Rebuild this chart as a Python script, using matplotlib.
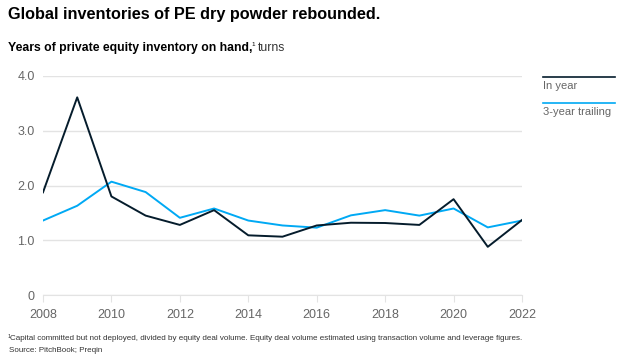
import matplotlib
matplotlib.use("Agg")
import matplotlib.pyplot as plt
from matplotlib.lines import Line2D

plt.rcParams['font.family'] = ['Liberation Sans', 'DejaVu Sans']

years = list(range(2008, 2023))
in_year = [1.875, 3.61, 1.80, 1.45, 1.28, 1.55, 1.09, 1.065, 1.27, 1.32, 1.315, 1.28, 1.75, 0.88, 1.37]
trailing = [1.36, 1.63, 2.07, 1.88, 1.41, 1.58, 1.36, 1.27, 1.23, 1.455, 1.55, 1.45, 1.58, 1.235, 1.36]
yticks = [0, 1.0, 2.0, 3.0, 4.0]
ylabels = ["0", "1.0", "2.0", "3.0", "4.0"]
xticks = list(range(2008, 2023, 2))

dark = "#051C2C"
blue = "#00A9F4"
grey = "#666666"

W, H = 631, 360
fig = plt.figure(figsize=(W / 100, H / 100), dpi=100)
ax = fig.add_axes([43 / W, 1 - 295 / H, (522 - 43) / W, (295 - 76) / H])

ax.plot(years, trailing, color=blue, lw=1.4, zorder=3)
ax.plot(years, in_year, color=dark, lw=1.4, zorder=4)

ax.set_xlim(2008, 2022)
ax.set_ylim(0, 4.0)
ax.set_yticks(yticks)
ax.set_yticklabels(ylabels)
ax.set_xticks(xticks)
ax.grid(axis="y", color="#e3e3e3", lw=1)
ax.set_axisbelow(True)
for s in ["top", "right", "left"]:
    ax.spines[s].set_visible(False)
ax.spines["bottom"].set_color("#e3e3e3")
ax.tick_params(axis="y", length=0, pad=6, labelsize=9, labelcolor=grey)
ax.tick_params(axis="x", length=5, color="#e3e3e3", pad=5, labelsize=9, labelcolor=grey)

# legend on the right
fig.add_artist(Line2D([543 / W, 615 / W], [1 - 77 / H, 1 - 77 / H], color=dark, lw=1.2))
fig.text(543 / W, 1 - 86 / H, "In year", fontsize=8, color=grey, va="center")
fig.add_artist(Line2D([543 / W, 615 / W], [1 - 103 / H, 1 - 103 / H], color=blue, lw=1.2))
fig.text(543 / W, 1 - 112 / H, "3-year trailing", fontsize=8, color=grey, va="center")

# titles
fig.text(8 / W, 1 - 14 / H, "Global inventories of PE dry powder rebounded.",
         fontsize=11.7, fontweight="bold", color="black", va="center")
t = fig.text(8 / W, 1 - 48 / H, "Years of private equity inventory on hand,",
             fontsize=8.8, fontweight="bold", color="black", va="center")
fig.canvas.draw()
x1 = t.get_window_extent().x1
sup = fig.text((x1 - 1.5) / W, 1 - 44 / H, "1", fontsize=4.5, color="black", va="center")
fig.canvas.draw()
x2 = sup.get_window_extent().x1
fig.text((x2 + 3) / W, 1 - 48 / H, "turns", fontsize=8.8, color="#333333", va="center")

# footnotes
fn1 = fig.text(8 / W, 1 - 337 / H, "1", fontsize=4, color="#333333", va="center")
fig.canvas.draw()
xf = fn1.get_window_extent().x1
fig.text((xf - 1) / W, 1 - 339 / H,
         "Capital committed but not deployed, divided by equity deal volume. Equity deal volume estimated using transaction volume and leverage figures.",
         fontsize=5.8, color="#333333", va="center")
fig.text(9 / W, 1 - 350 / H, "Source: PitchBook; Preqin", fontsize=5.8, color="#333333", va="center")

fig.savefig("out.png", dpi=100)
